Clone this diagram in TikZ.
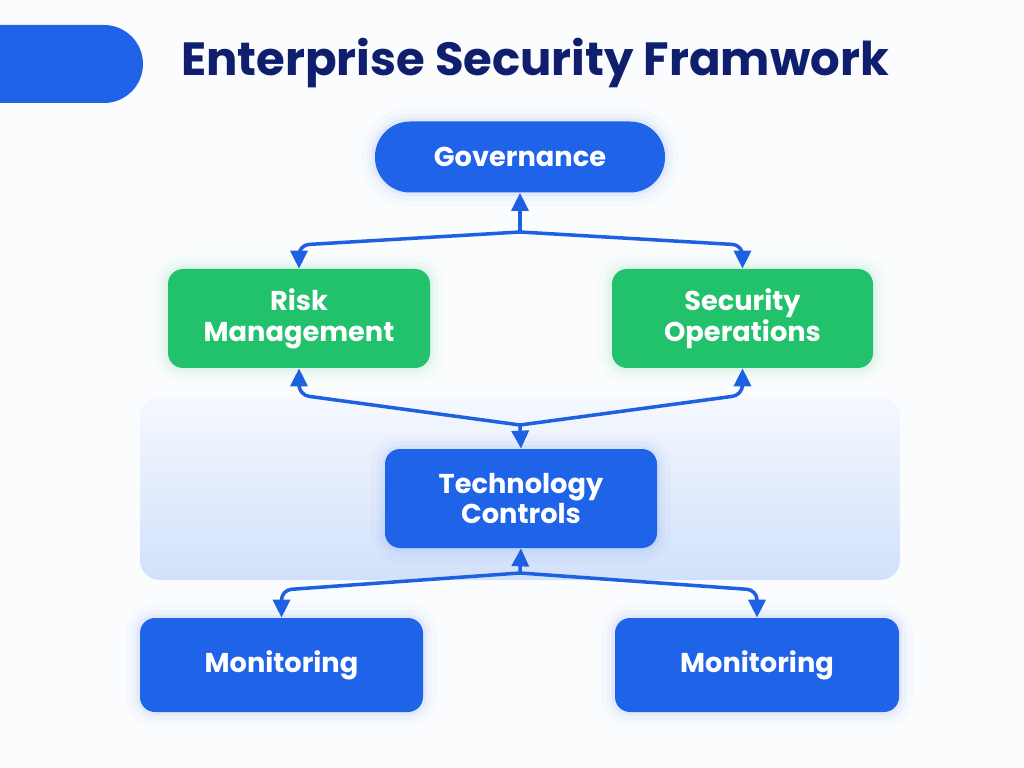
\documentclass[tikz,border=0pt]{standalone}
\usepackage{fontspec}
\setsansfont{Poppins}
\usepackage{tikz}
\usetikzlibrary{positioning,arrows.meta,backgrounds,calc}
\definecolor{mainblue}{HTML}{1F63E8}
\definecolor{arrblue}{HTML}{1D60E2}
\definecolor{okgreen}{HTML}{22C16B}
\definecolor{titlenavy}{HTML}{0F1F6E}
\definecolor{bandtop}{HTML}{F5F8FE}
\definecolor{bandbot}{HTML}{D2E1FA}
\definecolor{pagebg}{HTML}{FBFCFE}

\begin{document}
\begin{tikzpicture}[
  font=\sffamily\bfseries\fontsize{15.5}{17.6}\selectfont,
  blk/.style={rounded corners=0.3cm, align=center, text=white, inner sep=0pt,
              minimum height=1.98cm, minimum width=5.3cm},
  glowb/.style={preaction={draw=mainblue, draw opacity=0.025, line width=16pt},
                preaction={draw=mainblue, draw opacity=0.035, line width=9pt},
                preaction={draw=mainblue, draw opacity=0.05, line width=4pt}},
  glowg/.style={preaction={draw=okgreen, draw opacity=0.025, line width=16pt},
                preaction={draw=okgreen, draw opacity=0.035, line width=9pt},
                preaction={draw=okgreen, draw opacity=0.05, line width=4pt}},
  lead/.style={blk, fill=mainblue, glowb},
  area/.style={blk, fill=okgreen, glowg},
  arr/.style={-{Triangle[length=3.6mm, width=3.4mm]}, draw=arrblue, line width=2pt,
              rounded corners=0.2cm, line join=round}
]
  \useasboundingbox (0,0) rectangle (20.48,-15.36);
  \fill[pagebg] (0,0) rectangle (20.48,-15.36);

  % kop
  \fill[mainblue, rounded corners=0.78cm] (-1,-0.5) rectangle (2.86,-2.06);
  \node[font=\sffamily\bfseries\fontsize{26.5}{30}\selectfont, text=titlenavy] (title) at (10.7,-1.26) {Enterprise Security Framwork};

  % pita latar
  \shade[top color=bandtop, bottom color=bandbot, rounded corners=0.4cm] (2.8,-7.94) rectangle (18,-11.6);

  \node[lead, minimum width=5.8cm, minimum height=1.42cm, rounded corners=0.7cm] (gov) at (10.4,-3.14) {Governance};
  \node[area, minimum width=5.24cm] (risk) at (5.98,-6.37) {Risk\\Management};
  \node[area, minimum width=5.22cm] (secop) at (14.85,-6.37) {Security\\Operations};
  \node[lead, minimum width=5.44cm] (tech) at (10.42,-9.97) {Technology\\Controls};
  \node[lead, minimum width=5.66cm, minimum height=1.88cm] (monl) at (5.63,-13.3) {Monitoring};
  \node[lead, minimum width=5.68cm, minimum height=1.88cm] (monr) at (15.14,-13.3) {Monitoring};

  \coordinate (j1) at (10.4,-4.64);
  \coordinate (j2) at (10.4,-8.5);
  \coordinate (j3) at (10.4,-11.46);

  % atas
  \draw[arr] (j1) -- (gov.south);
  \draw[arr] (j1) -- (risk.north |- 0,-4.9) -- (risk.north);
  \draw[arr] (j1) -- (secop.north |- 0,-4.9) -- (secop.north);
  % tengah
  \draw[arr] (j2) -- (tech.north);
  \draw[arr] (j2) -- (risk.south |- 0,-7.9) -- (risk.south);
  \draw[arr] (j2) -- (secop.south |- 0,-7.9) -- (secop.south);
  % bawah
  \draw[arr] (j3) -- (tech.south);
  \draw[arr] (j3) -- (monl.north |- 0,-11.8) -- (monl.north);
  \draw[arr] (j3) -- (monr.north |- 0,-11.8) -- (monr.north);
\end{tikzpicture}
\end{document}
